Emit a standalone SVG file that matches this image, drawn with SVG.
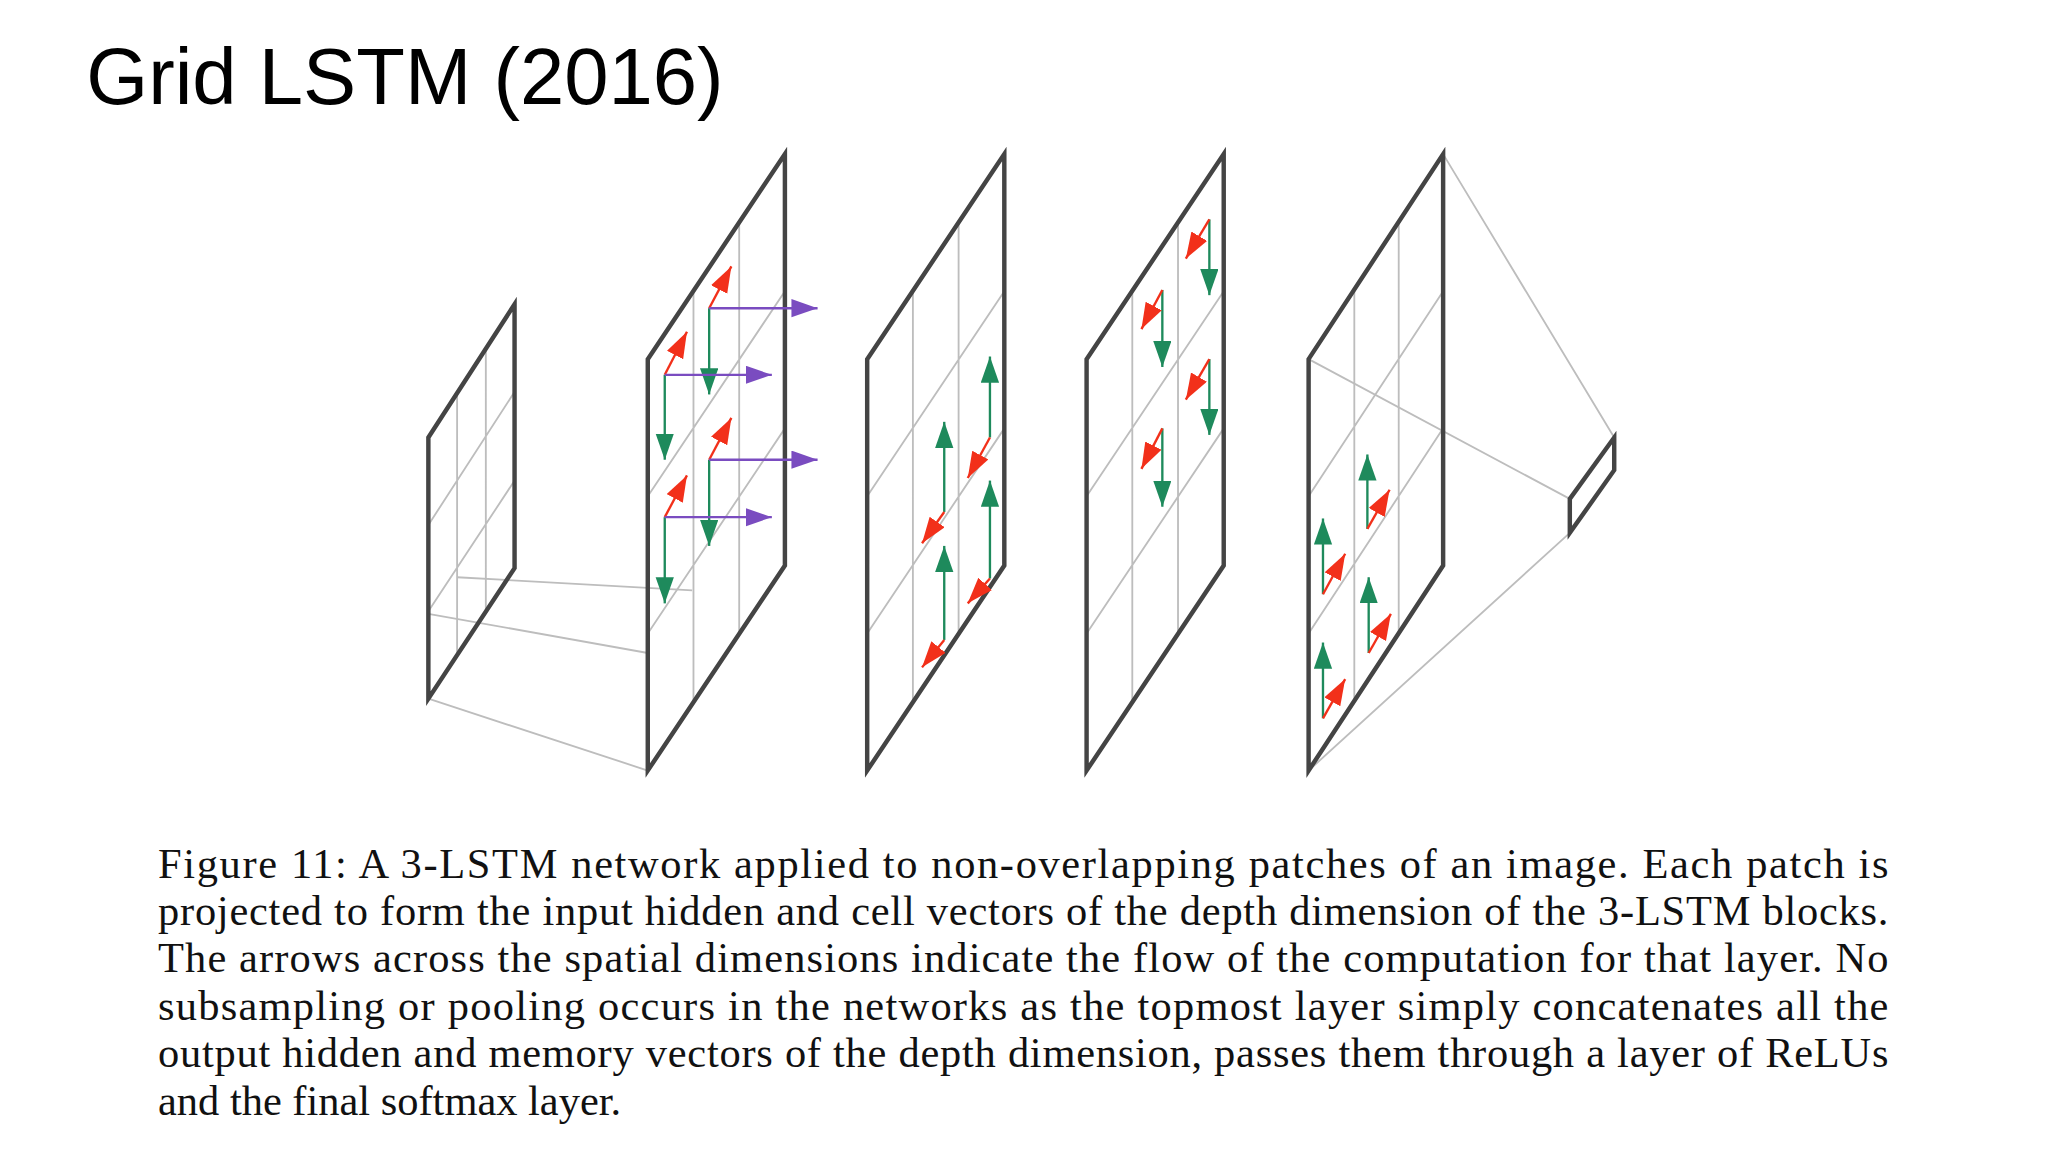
<svg xmlns="http://www.w3.org/2000/svg" width="2048" height="1152" viewBox="0 0 2048 1152">
<style>
.fr{fill:none;stroke:#444;stroke-width:3.4;stroke-linejoin:miter}
.gr{fill:none;stroke:#bdbdbd;stroke-width:1.4}
.r{stroke:#f2301a;stroke-width:1.8;fill:none;marker-end:url(#mr)}
.g{stroke:#1e8a5c;stroke-width:1.8;fill:none;marker-end:url(#mg)}
.p{stroke:#7a4cc0;stroke-width:1.8;fill:none;marker-end:url(#mp)}
.cap{font-family:"Liberation Serif",serif;font-size:32.5px;fill:#111}
</style>
<defs>
<marker id="mr" markerUnits="userSpaceOnUse" markerWidth="22" markerHeight="16" refX="20" refY="7" orient="auto"><path d="M0,0 L20,7 L0,14 z" fill="#f2301a"/></marker>
<marker id="mg" markerUnits="userSpaceOnUse" markerWidth="22" markerHeight="16" refX="20" refY="7" orient="auto"><path d="M0,0 L20,7 L0,14 z" fill="#1e8a5c"/></marker>
<marker id="mp" markerUnits="userSpaceOnUse" markerWidth="22" markerHeight="16" refX="20" refY="7" orient="auto"><path d="M0,0 L20,7 L0,14 z" fill="#7a4cc0"/></marker>
</defs>
<rect width="2048" height="1152" fill="#fff"/>
<g transform="scale(1.306)">
<text x="66" y="80" font-family="Liberation Sans,Arial,sans-serif" font-size="61" fill="#000">Grid LSTM (2016)</text>

<g id="connectors">
<path class="gr" d="M350,442 L530,452 M328,470 L496,500 M328,535 L496,590"/>
<path class="gr" d="M1105,118 L1236,335 M1002,275 L1202,382 M1002,590 L1202,408"/>
</g>

<g id="panel1">
<path class="gr" d="M350,301 V502 M372,267 V468 M328,402 L394,300 M328,468 L394,368"/>
<path class="fr" d="M328,335 L394,233 V435 L328,535 Z"/>
</g>

<g id="panel2">
<path class="gr" d="M531,221 V537 M566,170 V485 M496,380 L601,223 M496,485 L601,328"/>
<path class="fr" d="M496,275 L601,118 V433 L496,590 Z"/>
<path class="g" d="M543,236 V302"/><path class="r" d="M543,236 L560,204"/><path class="p" d="M543,236 H626"/>
<path class="g" d="M509,287 V352"/><path class="r" d="M509,287 L526,254"/><path class="p" d="M509,287 H591"/>
<path class="g" d="M543,352 V418"/><path class="r" d="M543,352 L560,320"/><path class="p" d="M543,352 H626"/>
<path class="g" d="M509,396 V462"/><path class="r" d="M509,396 L526,364"/><path class="p" d="M509,396 H591"/>
</g>

<g id="panel3">
<path class="gr" d="M699,221 V537 M734,170 V485 M664,380 L769,223 M664,485 L769,328"/>
<path class="fr" d="M664,275 L769,118 V433 L664,590 Z"/>
<path class="g" d="M758,335 V273"/><path class="r" d="M758,335 L741,366"/>
<path class="g" d="M723,392 V323"/><path class="r" d="M723,392 L706,416"/>
<path class="g" d="M758,443 V368"/><path class="r" d="M758,443 L741,462"/>
<path class="g" d="M723,490 V418"/><path class="r" d="M723,490 L706,511"/>
</g>

<g id="panel4">
<path class="gr" d="M867,221 V537 M902,170 V485 M832,380 L937,223 M832,485 L937,328"/>
<path class="fr" d="M832,275 L937,118 V433 L832,590 Z"/>
<path class="g" d="M926,168 V226"/><path class="r" d="M926,168 L908,198"/>
<path class="g" d="M890,222 V281"/><path class="r" d="M890,222 L874,252"/>
<path class="g" d="M926,275 V333"/><path class="r" d="M926,275 L908,306"/>
<path class="g" d="M890,328 V388"/><path class="r" d="M890,328 L874,359"/>
</g>

<g id="panel5">
<path class="gr" d="M1037,221 V537 M1071,170 V485 M1002,380 L1105,223 M1002,485 L1105,328"/>
<path class="fr" d="M1002,275 L1105,118 V433 L1002,590 Z"/>
<path class="g" d="M1047,405 V348"/><path class="r" d="M1047,405 L1064,375"/>
<path class="g" d="M1013,455 V397"/><path class="r" d="M1013,455 L1030,424"/>
<path class="g" d="M1048,500 V442"/><path class="r" d="M1048,500 L1065,470"/>
<path class="g" d="M1013,550 V492"/><path class="r" d="M1013,550 L1030,520"/>
</g>

<g id="output">
<path class="fr" d="M1202,382 L1236,335 V360 L1202,408 Z"/>
</g>

<g id="caption">
<text class="cap" x="121" y="672" textLength="1325" lengthAdjust="spacing">Figure 11: A 3-LSTM network applied to non-overlapping patches of an image. Each patch is</text>
<text class="cap" x="121" y="708" textLength="1325" lengthAdjust="spacing">projected to form the input hidden and cell vectors of the depth dimension of the 3-LSTM blocks.</text>
<text class="cap" x="121" y="744" textLength="1325" lengthAdjust="spacing">The arrows across the spatial dimensions indicate the flow of the computation for that layer. No</text>
<text class="cap" x="121" y="781" textLength="1325" lengthAdjust="spacing">subsampling or pooling occurs in the networks as the topmost layer simply concatenates all the</text>
<text class="cap" x="121" y="817" textLength="1325" lengthAdjust="spacing">output hidden and memory vectors of the depth dimension, passes them through a layer of ReLUs</text>
<text class="cap" x="121" y="854">and the final softmax layer.</text>
</g>
</g>
</svg>
